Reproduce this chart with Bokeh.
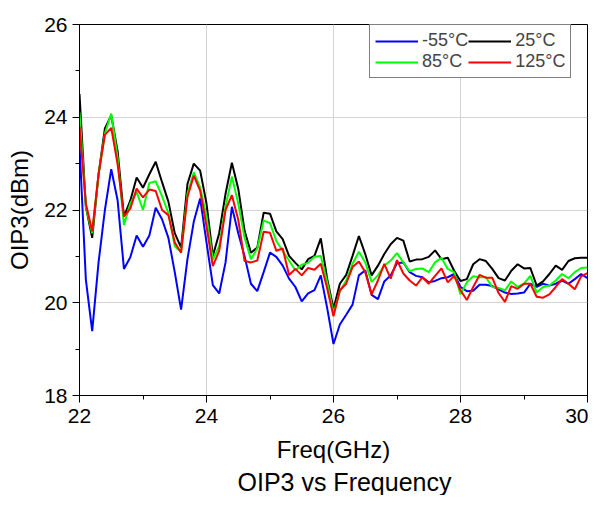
from bokeh.plotting import figure
from bokeh.models import Legend, LegendItem, Title, Range1d, FixedTicker
from bokeh.embed import file_html
from bokeh.resources import INLINE

freq = [22.0, 22.1, 22.2, 22.3, 22.4, 22.5, 22.6, 22.7, 22.8, 22.9,
        23.0, 23.1, 23.2, 23.3, 23.4, 23.5, 23.6, 23.7, 23.8, 23.9,
        24.0, 24.1, 24.2, 24.3, 24.4, 24.5, 24.6, 24.7, 24.8, 24.9,
        25.0, 25.1, 25.2, 25.3, 25.4, 25.5, 25.6, 25.7, 25.8, 25.9,
        26.0, 26.1, 26.2, 26.3, 26.4, 26.5, 26.6, 26.7, 26.8, 26.9,
        27.0, 27.1, 27.2, 27.3, 27.4, 27.5, 27.6, 27.7, 27.8, 27.9,
        28.0, 28.1, 28.2, 28.3, 28.4, 28.5, 28.6, 28.7, 28.8, 28.9,
        29.0, 29.1, 29.2, 29.3, 29.4, 29.5, 29.6, 29.7, 29.8, 29.9,
        30.0]

oip3_m55 = [23.4, 20.5, 19.39, 20.87, 22.0, 22.88, 22.21, 20.73, 20.98, 21.45,
            21.21, 21.45, 22.05, 21.8, 21.4, 20.66, 19.85, 20.94, 21.75, 22.25,
            21.3, 20.38, 20.2, 20.87, 22.07, 21.5, 21.0, 20.41, 20.25, 20.66,
            21.08, 20.99, 20.8, 20.52, 20.34, 20.03, 20.2, 20.27, 20.59, 19.89,
            19.11, 19.53, 19.74, 19.96, 20.59, 20.7, 20.17, 20.08, 20.46, 20.59,
            20.85, 20.87, 20.66, 20.58, 20.55, 20.44, 20.47, 20.53, 20.55, 20.62,
            20.34, 20.25, 20.26, 20.39, 20.39, 20.36, 20.29, 20.22, 20.19, 20.2,
            20.22, 20.41, 20.34, 20.41, 20.37, 20.41, 20.48, 20.41, 20.51, 20.62,
            20.53]

oip3_25 = [24.5, 22.07, 21.4, 22.77, 23.76, 24.04, 23.27, 21.86, 22.2, 22.7,
           22.48, 22.77, 23.04, 22.6, 22.18, 21.5, 21.19, 22.56, 23.0, 22.85,
           22.14, 21.01, 21.5, 22.35, 23.02, 22.46, 21.55, 21.08, 21.19, 21.94,
           21.92, 21.54, 21.37, 21.01, 20.86, 20.72, 20.94, 21.01, 21.39, 20.52,
           19.87, 20.41, 20.6, 21.01, 21.44, 21.05, 20.59, 20.8, 21.05, 21.26,
           21.4, 21.34, 20.89, 20.93, 20.94, 20.99, 21.13, 20.94, 20.97, 20.69,
           20.47, 20.51, 20.83, 20.94, 20.9, 20.73, 20.53, 20.48, 20.69, 20.83,
           20.74, 20.75, 20.37, 20.46, 20.62, 20.8, 20.71, 20.9, 20.96, 20.97,
           20.97]

oip3_85 = [24.1, 22.07, 21.5, 22.77, 23.65, 24.08, 23.13, 21.68, 22.14, 22.39,
           22.0, 22.58, 22.62, 22.3, 21.93, 21.22, 21.1, 22.35, 22.81, 22.49,
           21.86, 20.93, 21.22, 22.07, 22.72, 22.14, 21.4, 20.94, 21.17, 21.77,
           21.72, 21.33, 21.12, 20.91, 20.7, 20.82, 20.86, 20.99, 21.01, 20.45,
           19.78, 20.24, 20.48, 20.84, 21.1, 20.87, 20.45, 20.59, 20.8, 20.91,
           21.07, 20.87, 20.68, 20.73, 20.74, 20.66, 20.87, 20.97, 20.73, 20.66,
           20.18, 20.44, 20.57, 20.55, 20.55, 20.34, 20.32, 20.27, 20.46, 20.34,
           20.41, 20.58, 20.22, 20.34, 20.37, 20.48, 20.62, 20.53, 20.66, 20.75,
           20.76]

oip3_125 = [23.8, 22.14, 21.54, 22.77, 23.62, 23.77, 22.99, 21.86, 22.03, 22.46,
            22.27, 22.44, 22.41, 22.0, 21.89, 21.3, 21.08, 22.28, 22.74, 22.42,
            21.65, 20.79, 21.12, 22.0, 22.32, 21.79, 20.9, 20.87, 20.91, 21.53,
            21.51, 21.12, 21.17, 20.6, 20.73, 20.59, 20.75, 20.71, 20.84, 20.31,
            19.71, 20.27, 20.41, 20.77, 20.89, 20.66, 20.18, 20.48, 20.84, 20.52,
            20.92, 20.63, 20.48, 20.37, 20.55, 20.41, 20.58, 20.74, 20.44, 20.58,
            20.27, 20.06, 20.34, 20.6, 20.54, 20.54, 20.21, 20.02, 20.36, 20.3,
            20.41, 20.41, 20.13, 20.11, 20.18, 20.34, 20.51, 20.41, 20.29, 20.57,
            20.64]

x_ticks = [22, 24, 26, 28, 30]
y_ticks = [18, 20, 22, 24, 26]
series_labels = ["-55°C", "25°C", "85°C", "125°C"]
series_colors = ["#0000FF", "#000000", "#00FF00", "#FF0000"]

FONT = "Liberation Sans"

p = figure(width=588, height=495, output_backend="svg", toolbar_location=None,
           x_range=Range1d(22, 30), y_range=Range1d(18, 26),
           min_border_left=79, min_border_right=1, min_border_top=24, min_border_bottom=96)
p.background_fill_color = "white"
p.border_fill_color = "white"
p.outline_line_color = "black"
p.outline_line_width = 1
p.outline_line_alpha = 1

for ax, ticks in ((p.xaxis, x_ticks), (p.yaxis, y_ticks)):
    ax.ticker = FixedTicker(ticks=ticks, minor_ticks=[t + 1 for t in ticks[:-1]])
    ax.axis_line_color = "black"
    ax.major_tick_line_color = "black"
    ax.minor_tick_line_color = "black"
    ax.major_tick_in = 0
    ax.major_tick_out = 7
    ax.minor_tick_in = 0
    ax.minor_tick_out = 4
    ax.major_label_text_font = FONT
    ax.major_label_text_font_size = "21px"
    ax.major_label_text_color = "black"
    ax.axis_label_text_font = FONT
    ax.axis_label_text_font_size = "24px"
    ax.axis_label_text_font_style = "normal"
    ax.axis_label_text_color = "black"

p.xaxis.axis_label = "Freq(GHz)"
p.yaxis.axis_label = "OIP3(dBm)"
p.xaxis.major_label_standoff = 6
p.yaxis.major_label_standoff = 5
p.xaxis.axis_label_standoff = 10
p.yaxis.axis_label_standoff = 8

p.xgrid.ticker = FixedTicker(ticks=x_ticks)
p.ygrid.ticker = FixedTicker(ticks=y_ticks)
p.grid.grid_line_color = "#d4d4d4"
p.grid.grid_line_width = 1

series = [oip3_m55, oip3_25, oip3_85, oip3_125]
renderers = []
for vals, col in zip(series, series_colors):
    renderers.append(p.line(freq, vals, line_color=col, line_width=2))

# legend filled column-wise: column 1 = -55, 85 ; column 2 = 25, 125
order = [0, 2, 1, 3]
items = [LegendItem(label=series_labels[i], renderers=[renderers[i]]) for i in order]
legend = Legend(items=items, ncols=2, location=(290, 317), margin=0,
                label_text_font=FONT, label_text_font_size="18px",
                glyph_width=43, glyph_height=18, label_height=18, label_standoff=4,
                padding=5, spacing=0, border_line_color="black", border_line_width=1,
                background_fill_color="white", background_fill_alpha=1)
p.add_layout(legend)

p.add_layout(Title(text="OIP3 vs  Frequency", align="left", text_font=FONT,
                   text_font_size="25px", text_font_style="normal", text_color="black",
                   offset=158, standoff=0), "below")

open("out.html", "w").write(file_html(p, INLINE))
